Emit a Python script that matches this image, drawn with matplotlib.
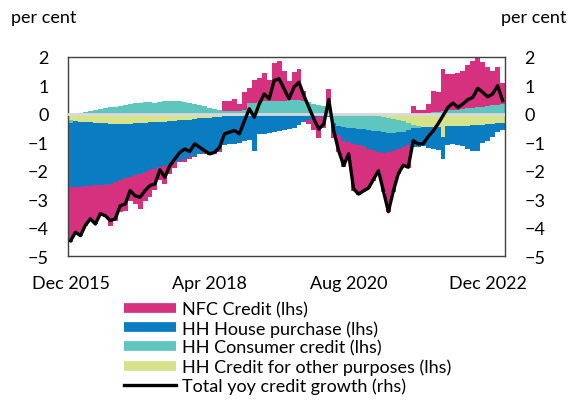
import numpy as np
import matplotlib.pyplot as plt
from matplotlib.lines import Line2D

plt.rcParams['font.family'] = ['Lato', 'DejaVu Sans']

# monthly, Dec 2015 .. Mar 2023 (88 months)
tick_pos = [0, 28, 56, 84]
tick_labels = ["Dec 2015", "Apr 2018", "Aug 2020", "Dec 2022"]

nfc = [
    -1.93, -1.64, -1.72, -1.38, -1.15, -1.35, -1.07, -1.12, -1.46, -1.34,
    -1.12, -1.14, -0.84, -1.01, -1.23, -1.01, -0.95, -0.75, -0.45, -0.65,
    -0.35, -0.20, -0.05, -0.10, -0.05, -0.05, -0.02, -0.05, -0.10, -0.10,
    -0.05, 0.37, 0.37, 0.43, 0.25, 0.64, 0.54, 0.80, 0.83, 1.00,
    0.75, 1.33, 1.40, 1.05, 0.68, 0.98, 1.07, 0.34, -0.13, -0.41,
    -0.73, -0.38, 0.67, -0.20, -0.60, -0.91, -0.55, -1.65, -1.75, -1.63,
    -1.38, -1.08, -0.70, -1.37, -2.10, -1.45, -0.90, -0.68, -0.80, 0.29,
    0.12, 0.12, 0.31, 0.76, 0.68, 1.48, 1.28, 1.26, 1.27, 1.35,
    1.51, 1.63, 1.80, 1.56, 1.37, 1.22, 1.31, 0.72,
]
house = [
    -2.24, -2.31, -2.28, -2.26, -2.23, -2.20, -2.18, -2.15, -2.12, -2.05,
    -1.98, -1.90, -1.86, -1.82, -1.78, -1.72, -1.67, -1.63, -1.59, -1.54,
    -1.50, -1.45, -1.41, -1.36, -1.32, -1.28, -1.24, -1.22, -1.21, -1.19,
    -1.18, -1.01, -0.99, -0.98, -0.96, -0.91, -0.87, -1.25, -0.68, -0.66,
    -0.64, -0.60, -0.56, -0.53, -0.49, -0.45, -0.37, -0.25, -0.19, -0.11,
    -0.10, -0.10, -0.10, -0.33, -0.31, -0.47, -0.51, -0.55, -0.58, -0.58,
    -0.67, -0.68, -0.74, -0.73, -0.69, -0.63, -0.57, -0.51, -0.53, -0.65,
    -0.67, -0.67, -0.72, -0.75, -0.78, -0.78, -0.66, -0.62, -0.66, -0.70,
    -0.81, -0.90, -0.90, -0.64, -0.59, -0.45, -0.29, -0.23,
]
consumer = [
    -0.10, 0.00, 0.04, 0.08, 0.11, 0.14, 0.17, 0.20, 0.23, 0.26,
    0.29, 0.31, 0.34, 0.37, 0.40, 0.42, 0.41, 0.40, 0.42, 0.44,
    0.45, 0.45, 0.44, 0.42, 0.40, 0.36, 0.32, 0.27, 0.22, 0.17,
    0.12, 0.10, 0.10, 0.10, 0.10, 0.12, 0.38, 0.40, 0.42, 0.44,
    0.45, 0.46, 0.47, 0.47, 0.48, 0.50, 0.50, 0.47, 0.42, 0.35,
    0.30, 0.28, 0.20, -0.30, -0.42, -0.45, -0.47, -0.48, -0.50, -0.52,
    -0.53, -0.55, -0.55, -0.55, -0.53, -0.50, -0.45, -0.40, -0.25, -0.12,
    -0.05, 0.00, 0.04, 0.06, 0.08, 0.10, 0.12, 0.14, 0.15, 0.17,
    0.19, 0.21, 0.23, 0.25, 0.27, 0.30, 0.33, 0.36,
]
other = [
    -0.23, -0.25, -0.27, -0.28, -0.30, -0.31, -0.32, -0.33, -0.34, -0.35,
    -0.35, -0.35, -0.34, -0.33, -0.32, -0.31, -0.30, -0.29, -0.28, -0.27,
    -0.26, -0.25, -0.23, -0.22, -0.20, -0.18, -0.16, -0.15, -0.13, -0.12,
    -0.10, -0.09, -0.08, -0.07, -0.06, -0.05, -0.05, -0.04, -0.04, -0.04,
    -0.04, -0.04, -0.04, -0.03, -0.03, -0.03, -0.03, -0.03, -0.03, -0.03,
    -0.02, -0.02, -0.02, -0.02, -0.02, -0.02, -0.02, -0.02, -0.02, -0.02,
    -0.02, -0.04, -0.06, -0.10, -0.13, -0.17, -0.20, -0.24, -0.32, -0.38,
    -0.43, -0.45, -0.46, -0.47, -0.47, -0.80, -0.44, -0.43, -0.42, -0.42,
    -0.41, -0.40, -0.40, -0.38, -0.36, -0.35, -0.33, -0.32,
]
total = [
    -4.45, -4.15, -4.27, -3.90, -3.68, -3.86, -3.50, -3.57, -3.74, -3.68,
    -3.22, -3.16, -2.69, -2.87, -2.92, -2.69, -2.51, -2.46, -1.96, -2.22,
    -1.81, -1.58, -1.35, -1.23, -1.32, -1.05, -1.17, -1.29, -1.40, -1.35,
    -1.17, -0.70, -0.64, -0.58, -0.70, -0.25, 0.18, -0.12, 0.35, 0.70,
    0.53, 1.17, 1.23, 0.88, 0.53, 0.94, 1.11, 0.64, 0.23, -0.18,
    -0.53, -0.35, 0.50, -0.60, -1.30, -1.81, -1.40, -2.63, -2.81, -2.70,
    -2.60, -2.30, -1.99, -2.70, -3.43, -2.70, -2.10, -1.80, -1.87, -0.94,
    -1.05, -1.05, -0.80, -0.60, -0.35, -0.06, 0.23, 0.38, 0.23, 0.35,
    0.50, 0.58, 0.90, 0.76, 0.60, 0.70, 0.99, 0.47,
]

c_nfc = "#D6317F"
c_house = "#0A7CC1"
c_cons = "#5EC5BF"
c_other = "#D7E38A"

fig = plt.figure(figsize=(5.72, 4.02), dpi=100)
ax = fig.add_axes([0.119, 0.3595, 0.764, 0.4965])

x = np.arange(len(total))
pos = np.zeros(len(x))
neg = np.zeros(len(x))
# stacking order as in the original chart (closest to zero first)
for vals, col in [(other, c_other), (consumer, c_cons), (house, c_house), (nfc, c_nfc)]:
    v = np.array(vals)
    bottom = np.where(v >= 0, pos, neg)
    ax.bar(x, v, width=1.0, bottom=bottom, color=col, linewidth=0, zorder=2)
    pos = pos + np.clip(v, 0, None)
    neg = neg + np.clip(v, None, 0)

ax.axhline(0, color="#D9D9D9", lw=2, zorder=3)

ax.set_xlim(-0.5, len(x) - 0.5)
ax.set_ylim(-5, 2)
ax.set_yticks(range(-5, 3))
ax.set_xticks(tick_pos)
ax.set_xticklabels(tick_labels)
ax.tick_params(length=0, labelsize=13, colors="black")
ax.tick_params(axis="y", pad=14)
ax.tick_params(axis="x", pad=13)
for s in ax.spines.values():
    s.set_color("#404040")
    s.set_linewidth(1)

ax2 = ax.twinx()
ax2.plot(x, total, color="black", lw=2.4, zorder=5)
ax2.set_ylim(-5, 2)
ax2.set_yticks(range(-5, 3))
ax2.tick_params(length=0, labelsize=13, pad=14)
for s in ax2.spines.values():
    s.set_visible(False)

fig.text(0.02, 0.955, "per cent", fontsize=13, ha="left", va="center")
fig.text(0.99, 0.955, "per cent", fontsize=13, ha="right", va="center")

handles = [
    Line2D([], [], color=c_nfc, lw=7, solid_capstyle="butt"),
    Line2D([], [], color=c_house, lw=7, solid_capstyle="butt"),
    Line2D([], [], color=c_cons, lw=7, solid_capstyle="butt"),
    Line2D([], [], color=c_other, lw=7, solid_capstyle="butt"),
    Line2D([], [], color="black", lw=2.4),
]
labels = [
    "NFC Credit (lhs)",
    "HH House purchase (lhs)",
    "HH Consumer credit (lhs)",
    "HH Credit for other purposes (lhs)",
    "Total yoy credit growth (rhs)",
]
fig.legend(handles, labels, loc="upper left", bbox_to_anchor=(0.217, 0.248),
           frameon=False, fontsize=13, handlelength=2.9, handletextpad=0.3,
           labelspacing=0.155, borderaxespad=0, borderpad=0)

fig.savefig("out.png", dpi=100)
